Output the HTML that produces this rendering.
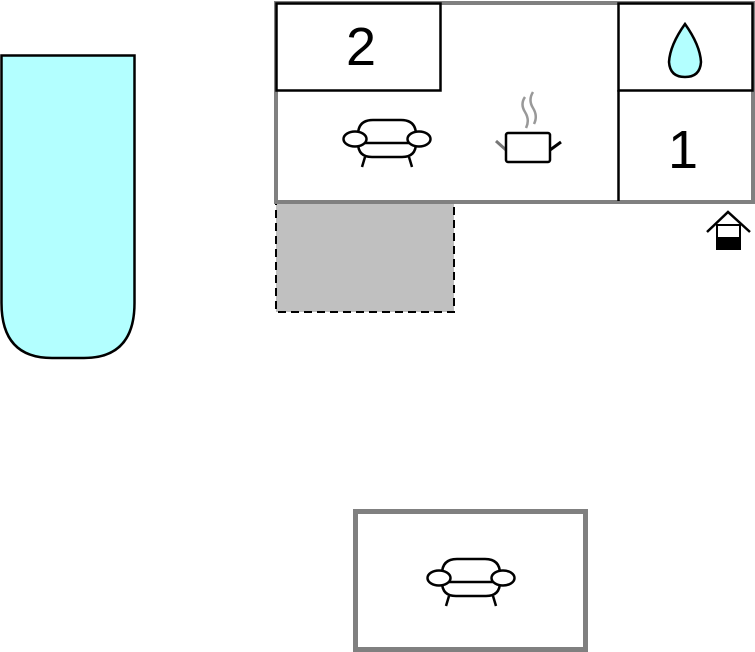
<!DOCTYPE html>
<html><head><meta charset="utf-8"><style>
html,body{margin:0;padding:0;background:#fff;width:755px;height:652px;overflow:hidden}
svg{display:block}
</style></head><body>
<svg width="755" height="652" viewBox="0 0 755 652" xmlns="http://www.w3.org/2000/svg">
<defs>
<g id="sofa" fill="none" stroke="#000" stroke-width="2.5">
<path d="M-29,-4 Q-29,-19 -14,-19 H14 Q29,-19 29,-4"/>
<path d="M-29,4 Q-29,18 -15,18 H15 Q29,18 29,4"/>
<line x1="-24" y1="4" x2="24" y2="4"/>
<line x1="-22" y1="18" x2="-25" y2="28"/>
<line x1="22" y1="18" x2="25" y2="28"/>
<ellipse cx="-32" cy="0" rx="11.5" ry="7.5" fill="#fff"/>
<ellipse cx="32" cy="0" rx="11.5" ry="7.5" fill="#fff"/>
</g>
</defs>
<path d="M1.5,55.5 H134.5 V303 Q134.5,358 84,358 H52 Q1.5,358 1.5,303 Z" fill="#b3ffff" stroke="#000" stroke-width="2.5"/>
<rect x="276" y="203" width="178" height="109" fill="#c0c0c0" stroke="#000" stroke-width="2" stroke-dasharray="8,5"/>
<rect x="276" y="3" width="477" height="199" fill="#fff" stroke="#808080" stroke-width="4"/>
<rect x="276.5" y="3.5" width="164" height="87" fill="#fff" stroke="#000" stroke-width="2.5"/>
<rect x="618.5" y="3.5" width="134" height="87" fill="#fff" stroke="#000" stroke-width="2.5"/>
<line x1="618.5" y1="90" x2="618.5" y2="201" stroke="#000" stroke-width="2.5"/>
<text x="361" y="65" font-family="Liberation Sans, sans-serif" font-size="54" text-anchor="middle">2</text>
<text x="683" y="168" font-family="Liberation Sans, sans-serif" font-size="54" text-anchor="middle">1</text>
<path d="M685,24 Q670,45 669,62 Q670,77 685,77 Q700,77 701,62 Q700,45 685,24 Z" fill="#b3ffff" stroke="#000" stroke-width="2.5"/>
<use href="#sofa" x="387" y="139"/>
<line x1="496" y1="141" x2="506" y2="150" stroke="#777" stroke-width="3"/>
<line x1="550" y1="150" x2="561" y2="142" stroke="#000" stroke-width="3"/>
<rect x="506" y="133" width="44" height="29" rx="2" fill="#fff" stroke="#000" stroke-width="2.5"/>
<path d="M525,97 Q520,104 525,112 Q530,120 526,128" fill="none" stroke="#999" stroke-width="2.5"/>
<path d="M533,92 Q528,100 533,108 Q538,116 534,124" fill="none" stroke="#999" stroke-width="2.5"/>
<path d="M707,232 L728,212 L750,232" fill="none" stroke="#000" stroke-width="2.5"/>
<rect x="717" y="225" width="23" height="24" fill="#fff" stroke="#000" stroke-width="2"/>
<rect x="717" y="237" width="23" height="12" fill="#000"/>
<rect x="355.5" y="511.5" width="230" height="138" fill="#fff" stroke="#808080" stroke-width="5"/>
<use href="#sofa" x="471" y="578"/>
</svg>
</body></html>
